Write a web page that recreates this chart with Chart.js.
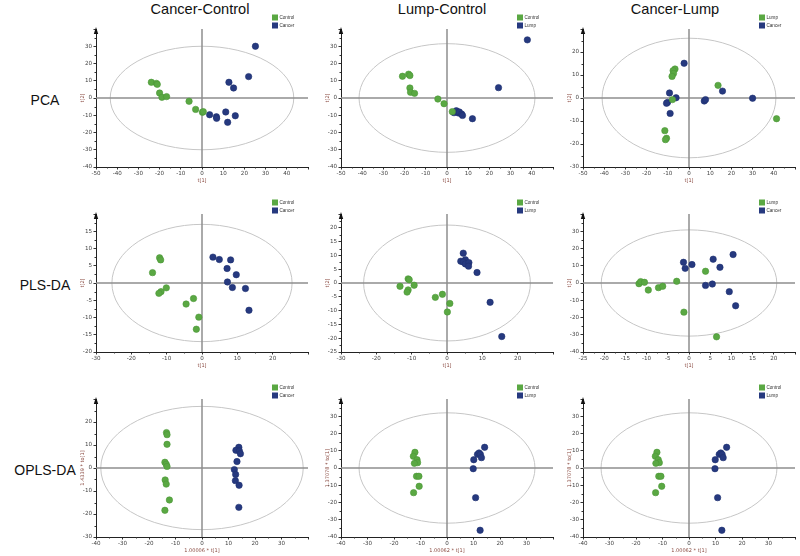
<!DOCTYPE html>
<html><head><meta charset="utf-8">
<script src="https://cdn.jsdelivr.net/npm/chart.js@4.4.0/dist/chart.umd.min.js"></script>
<style>
body{margin:0;background:#fff;width:800px;height:556px;position:relative;overflow:hidden;font-family:"Liberation Sans",Arial,sans-serif;}
canvas{position:absolute;}
.t{position:absolute;font-size:14.6px;color:#111;white-space:nowrap;transform:translate(-50%,-50%);}
.r{font-size:14px;}
</style></head><body>
<script>
// ---------- text ----------
const columnTitles = ['Cancer-Control','Lump-Control','Cancer-Lump'];
const rowTitles = ['PCA','PLS-DA','OPLS-DA'];

// ---------- PCA ----------
const pcaCC_Control = [[-23.9,9.1],[-21.5,8.5],[-21.1,7.9],[-20.0,2.9],[-18.9,0.4],[-16.7,0.8],[-6.1,-1.9],[-3.0,-6.6],[0.2,-8.3],[0.6,-7.9]];
const pcaCC_Cancer  = [[25.2,30.0],[22.0,12.4],[12.7,9.1],[14.9,5.8],[3.6,-9.7],[6.8,-10.9],[6.9,-11.8],[11.2,-8.1],[15.7,-10.3],[12.1,-14.1]];
const pcaLC_Control = [[-21.0,12.6],[-18.1,13.8],[-17.5,13.0],[-17.5,5.8],[-17.2,3.3],[-15.3,2.7],[-4.3,-0.6],[-1.4,-3.3],[2.5,-7.9]];
const pcaLC_Lump    = [[37.9,33.7],[24.3,6.0],[3.3,-8.5],[4.4,-7.4],[5.4,-8.7],[5.8,-8.1],[6.9,-9.3],[7.3,-10.1],[12.0,-12.0]];
const pcaCL_Lump    = [[-6.6,12.6],[-7.5,11.9],[-7.3,10.7],[-8.0,9.4],[13.7,5.5],[-7.8,-0.7],[-11.4,-14.2],[-10.6,-17.5],[-11.1,-18.1],[41.3,-9.0]];
const pcaCL_Cancer  = [[-2.3,15.1],[-9.2,2.2],[-6.1,0.1],[-10.1,-1.9],[-10.6,-2.3],[-8.9,-6.7],[7.2,-1.3],[7.8,-0.7],[15.8,3.0],[30.0,-0.1]];

// ---------- PLS-DA ----------
const plsCC_Control = [[-12.0,7.3],[-11.7,6.7],[-14.0,3.0],[-10.1,-1.4],[-11.6,-2.5],[-12.2,-3.0],[-2.4,-4.5],[-4.5,-6.1],[-0.9,-9.9],[-1.6,-13.4]];
const plsCC_Cancer  = [[3.1,7.5],[4.9,6.8],[8.1,6.7],[7.1,4.2],[9.7,2.4],[7.2,0.3],[8.6,-1.3],[12.3,-1.6],[13.3,-7.9]];
const plsLC_Control = [[-11.0,1.5],[-10.7,1.2],[-13.3,-1.2],[-9.3,-0.8],[-11.0,-2.5],[-11.3,-3.3],[-3.3,-5.2],[-1.3,-4.1],[0.8,-7.4],[0.1,-10.5]];
const plsLC_Lump    = [[4.6,10.8],[3.9,7.9],[5.2,8.4],[4.6,7.6],[5.2,6.9],[6.2,7.4],[6.1,6.1],[8.5,3.8],[12.2,-7.0],[15.5,-19.4]];
const plsCL_Lump    = [[-11.8,-0.4],[-11.4,0.8],[-10.5,0.4],[-9.6,-4.1],[-7.2,-2.7],[-6.2,-1.9],[-2.9,1.0],[3.9,6.8],[-1.2,-16.9],[6.5,-31.2]];
const plsCL_Cancer  = [[-1.3,12.0],[-0.9,8.5],[0.7,10.7],[5.7,13.8],[7.3,9.1],[10.4,16.5],[3.9,-1.4],[5.5,-0.6],[9.5,-5.0],[11.0,-13.2]];

// ---------- OPLS-DA ----------
const oplsCC_Control = [[-13.4,15.4],[-13.2,14.5],[-13.2,10.3],[-14.0,2.5],[-13.5,1.6],[-13.2,0.7],[-13.9,-5.2],[-13.5,-7.0],[-12.3,-13.9],[-14.0,-18.4]];
const oplsCC_Cancer  = [[13.9,9.0],[12.8,7.7],[14.1,7.4],[14.5,6.2],[13.2,2.8],[12.2,-0.7],[12.7,-2.8],[12.6,-5.5],[14.0,-7.5],[13.9,-17.1]];
const oplsLC_Control = [[-12.1,9.1],[-12.7,6.8],[-11.3,4.8],[-11.1,3.1],[-12.3,2.7],[-11.5,-4.8],[-10.6,-4.8],[-10.5,-10.6],[-12.6,-14.3]];
const oplsLC_Lump    = [[14.2,12.0],[11.5,7.9],[12.1,8.7],[12.6,7.9],[13.0,6.0],[10.1,4.8],[9.9,-0.4],[10.8,-17.2],[12.5,-36.1]];
const oplsCL_Control = [[-12.1,9.1],[-12.7,6.8],[-11.6,4.8],[-11.2,3.1],[-12.5,2.7],[-11.4,-4.8],[-10.6,-4.8],[-10.3,-10.6],[-12.6,-14.3]];
const oplsCL_Lump    = [[14.2,12.0],[11.4,7.9],[12.0,8.7],[12.5,7.9],[12.9,6.0],[9.9,4.8],[9.8,-0.4],[10.8,-17.2],[12.4,-36.1]];

// ---------- axis ranges [min,max,step] ----------
const xRanges = [[-50,50,10],[-50,50,10],[-50,50,10], [-30,30,10],[-30,30,10],[-25,25,5], [-40,40,10],[-40,40,10],[-40,40,10]];
const yRanges = [[-40,40,10],[-40,40,10],[-30,30,10], [-20,20,5],[-25,25,5],[-40,40,10], [-30,30,10],[-40,40,10],[-40,40,10]];
// Hotelling ellipse radii [rx, ry] in data units
const ellipses = [[43.3,30],[41.5,31.5],[41,26], [25.5,17],[23.6,21],[20.7,30.8], [38.2,26.8],[33.2,32],[33.2,32]];
// axis titles
const xTitles = ['t[1]','t[1]','t[1]','t[1]','t[1]','t[1]','1.00006 * t[1]','1.00062 * t[1]','1.00062 * t[1]'];
const yTitles = ['t[2]','t[2]','t[2]','t[2]','t[2]','t[2]','1.4339 * to[1]','1.37078 * to[1]','1.37078 * to[1]'];
// series per panel
const panelSeries = [
  [pcaCC_Control,pcaCC_Cancer],[pcaLC_Control,pcaLC_Lump],[pcaCL_Lump,pcaCL_Cancer],
  [plsCC_Control,plsCC_Cancer],[plsLC_Control,plsLC_Lump],[plsCL_Lump,plsCL_Cancer],
  [oplsCC_Control,oplsCC_Cancer],[oplsLC_Control,oplsLC_Lump],[oplsCL_Control,oplsCL_Lump]
];
const panelLabels = [
  ['Control','Cancer'],['Control','Lump'],['Lump','Cancer'],
  ['Control','Cancer'],['Control','Lump'],['Lump','Cancer'],
  ['Control','Cancer'],['Control','Lump'],['Control','Lump']
];

// ---------- layout / style ----------
const GREEN = '#5aa843', BLUE = '#26397f';
const colLeft = [70, 315, 557];
const rowTop = [11, 196, 381];
const colTitleX = [200, 442, 675];
const rowTitleY = [100, 285, 470];
const PAD_TOP = 18, YW = 26, XH = 20, PAD_R = 4, PW = 212, PH = 138;

columnTitles.forEach((t,i)=>{const d=document.createElement('div');d.className='t';d.textContent=t;d.style.left=colTitleX[i]+'px';d.style.top='9px';document.body.appendChild(d);});
rowTitles.forEach((t,i)=>{const d=document.createElement('div');d.className='t r';d.textContent=t;d.style.left='45px';d.style.top=rowTitleY[i]+'px';document.body.appendChild(d);});

const deco = {
  id:'deco',
  beforeDatasetsDraw(chart, args, o){
    const {ctx, chartArea:a, scales:{x,y}} = chart;
    const x0 = x.getPixelForValue(0), y0 = y.getPixelForValue(0);
    const rx = Math.abs(x.getPixelForValue(o.ellipse[0]) - x0);
    const ry = Math.abs(y.getPixelForValue(o.ellipse[1]) - y0);
    ctx.save();
    ctx.strokeStyle = '#c6c6c6'; ctx.lineWidth = 1;
    ctx.beginPath(); ctx.ellipse(x0, y0, rx, ry, 0, 0, Math.PI*2); ctx.stroke();
    ctx.strokeStyle = '#8e8e8e'; ctx.lineWidth = 1.5;
    ctx.beginPath(); ctx.moveTo(a.left, y0); ctx.lineTo(a.right, y0);
    ctx.moveTo(x0, a.top); ctx.lineTo(x0, a.bottom); ctx.stroke();
    ctx.restore();
  },
  afterDraw(chart, args, o){
    const {ctx, chartArea:a, scales:{x,y}} = chart;
    ctx.save();
    ctx.fillStyle = '#111';
    ctx.beginPath(); ctx.moveTo(a.left, a.top-2); ctx.lineTo(a.left-2.2, a.top+5); ctx.lineTo(a.left+2.2, a.top+5); ctx.closePath(); ctx.fill();
    ctx.strokeStyle = '#333'; ctx.lineWidth = 1;
    ctx.beginPath();
    const xt = x.ticks.map(t=>t.value), yt = y.ticks.map(t=>t.value);
    for (let i=0;i<xt.length-1;i++){ const px = Math.round(x.getPixelForValue((xt[i]+xt[i+1])/2))+0.5; ctx.moveTo(px, a.bottom); ctx.lineTo(px, a.bottom+1.5); }
    for (let i=0;i<yt.length-1;i++){ const py = Math.round(y.getPixelForValue((yt[i]+yt[i+1])/2))+0.5; ctx.moveTo(a.left, py); ctx.lineTo(a.left-1.5, py); }
    ctx.stroke();
    ctx.font = '4.6px "Liberation Sans", Arial, sans-serif';
    ctx.textBaseline = 'middle';
    chart.data.datasets.forEach((ds,i)=>{
      const lx = a.right - 36, ly = a.top - 14.5 + i*8;
      ctx.fillStyle = ds.backgroundColor; ctx.fillRect(lx, ly, 6, 6);
      ctx.fillStyle = '#333'; ctx.fillText(ds.label, lx+7.5, ly+3.2);
    });
    ctx.restore();
  }
};

panelSeries.forEach((series, p)=>{
  const r = Math.floor(p/3), c = p%3;
  const cv = document.createElement('canvas');
  const W = YW + PW + PAD_R, H = PAD_TOP + PH + XH;
  cv.width = W; cv.height = H;
  cv.style.left = colLeft[c]+'px'; cv.style.top = rowTop[r]+'px';
  cv.style.width = W+'px'; cv.style.height = H+'px';
  document.body.appendChild(cv);
  const [xmin,xmax,xs] = xRanges[p], [ymin,ymax,ys] = yRanges[p];
  const tickFont = {family:'"DejaVu Sans", sans-serif', size:5.6};
  new Chart(cv, {
    type:'scatter',
    data:{datasets: series.map((pts,i)=>({
      label: panelLabels[p][i],
      data: pts.map(([vx,vy])=>({x:vx,y:vy})),
      backgroundColor: i===0?GREEN:BLUE,
      borderColor: i===0?'#4c9738':'#1f3070',
      borderWidth: 0.6, pointRadius: 3.2, pointHoverRadius: 3.2
    }))},
    options:{
      responsive:false, animation:false, devicePixelRatio:1,
      layout:{padding:{left:0, top:PAD_TOP, right:PAD_R, bottom:0}},
      plugins:{legend:{display:false}, tooltip:{enabled:false}, deco:{ellipse:ellipses[p]}},
      scales:{
        x:{type:'linear', min:xmin, max:xmax,
           afterFit:s=>{s.height = XH;},
           ticks:{stepSize:xs, autoSkip:false, maxRotation:0, color:'#444', font:tickFont, padding:1,
                  callback:v=> v===xmax ? '' : String(v)},
           grid:{drawOnChartArea:false, drawTicks:true, tickLength:2.5, color:'#333'},
           border:{display:true, color:'#222', width:1},
           title:{display:true, text:xTitles[p], color:'#8a4a40', font:{family:'"DejaVu Sans", sans-serif', size:5}, padding:{top:0,bottom:3}}},
        y:{type:'linear', min:ymin, max:ymax,
           afterFit:s=>{s.width = YW;},
           ticks:{stepSize:ys, autoSkip:false, color:'#444', font:tickFont, padding:1.5,
                  callback:v=> v===ymax ? '' : String(v)},
           grid:{drawOnChartArea:false, drawTicks:true, tickLength:2.5, color:'#333'},
           border:{display:true, color:'#222', width:1},
           title:{display:true, text:yTitles[p], color:'#8a4a40', font:{family:'"DejaVu Sans", sans-serif', size:5}, padding:{top:10,bottom:0}}}
      }
    },
    plugins:[deco]
  });
});
</script>
</body></html>
